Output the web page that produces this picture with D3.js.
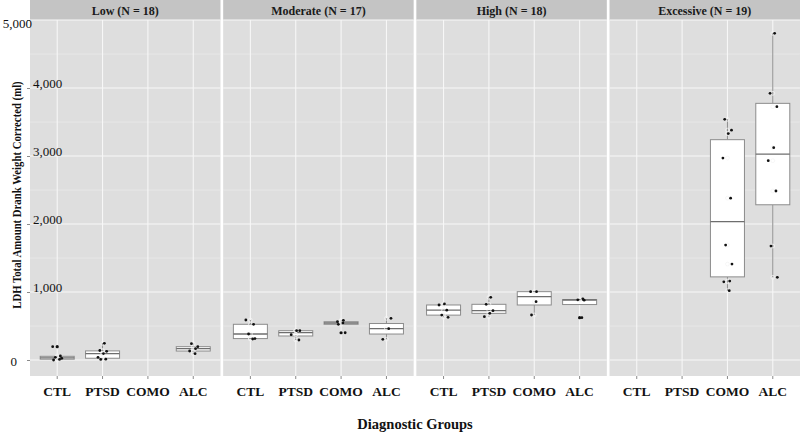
<!DOCTYPE html>
<html><head><meta charset="utf-8">
<script src="https://cdn.jsdelivr.net/npm/d3@7"></script>
<style>
html,body{margin:0;padding:0;background:#fff;}
svg{display:block;font-family:"Liberation Serif","Times New Roman",serif;}
</style></head>
<body><svg id="chart" width="800" height="433"></svg>
<script>
// ---- data ----
const levels = ["Low (N = 18)", "Moderate (N = 17)", "High (N = 18)", "Excessive (N = 19)"];
const groups = ["CTL", "PTSD", "COMO", "ALC"];
// values per drinking level, one inner array per diagnostic group (CTL, PTSD, COMO, ALC)
const lowValues       = [[0, 8, 25, 40, 59, 196], [8, 12, 40, 95, 128, 140, 245], [], [93, 132, 166, 196, 240]];
const moderateValues  = [[309, 315, 382, 525, 588], [294, 373, 431, 431], [401, 525, 544, 563, 583], [304, 460, 613]];
const highValues      = [[628, 660, 732, 809, 824], [637, 686, 725, 819, 922], [662, 858, 1005, 1005], [622, 880, 885, 900]];
const excessiveValues = [[], [], [1020, 1150, 1160, 1410, 1690, 2380, 2970, 3330, 3380, 3540], [1216, 1676, 2485, 2931, 3122, 3725, 3922, 4804]];
const yTicks = [0, 1000, 2000, 3000, 4000, 5000];
const yMinor = [500, 1500, 2500, 3500, 4500];
const xTitle = "Diagnostic Groups";
const yTitle = "LDH Total Amount Drank Weight Corrected (ml)";

const allValues = [lowValues, moderateValues, highValues, excessiveValues];

// ---- layout ----
const svg = d3.select("#chart");
const panelLeft = 30, panelRight = 800, stripTop = 0, stripBottom = 20, panelBottom = 376;

const fx = d3.scaleBand().domain(levels).range([panelLeft, panelRight]).paddingInner(0.014).paddingOuter(0);
const pw = fx.bandwidth();
const x = d3.scalePoint().domain(groups).range([0, pw]).padding(0.6);
const step = x.step();
const y = d3.scaleLinear().domain([0, 5000]).range([360, 20]);

const jit = [-0.08, 0.05, 0.1, -0.04, 0.07, -0.1, 0.02, 0.09, -0.06, 0.04];

levels.forEach((lev, li) => {
  const g = svg.append("g").attr("transform", `translate(${fx(lev)},0)`);
  // strip
  g.append("rect").attr("x", 0).attr("y", stripTop).attr("width", pw).attr("height", stripBottom - stripTop)
    .attr("fill", "#c4c4c4");
  g.append("text").attr("x", pw / 2).attr("y", 14.5).attr("text-anchor", "middle")
    .attr("font-weight", "bold").attr("font-size", 12).attr("fill", "#1a1a1a").text(lev);
  // panel
  g.append("rect").attr("x", 0).attr("y", stripBottom).attr("width", pw).attr("height", panelBottom - stripBottom)
    .attr("fill", "#dedede");
  // minor grid
  g.selectAll(".minor").data(yMinor).join("line")
    .attr("x1", 0).attr("x2", pw).attr("y1", d => y(d)).attr("y2", d => y(d))
    .attr("stroke", "#ececec").attr("stroke-width", 0.6);
  // major grid
  g.selectAll(".major").data(yTicks).join("line")
    .attr("x1", 0).attr("x2", pw).attr("y1", d => y(d)).attr("y2", d => y(d))
    .attr("stroke", "#f7f7f7").attr("stroke-width", 1.1);
  g.selectAll(".vgrid").data(groups).join("line")
    .attr("x1", d => x(d)).attr("x2", d => x(d)).attr("y1", stripBottom).attr("y2", panelBottom)
    .attr("stroke", "#f7f7f7").attr("stroke-width", 1.1);
  // x ticks
  g.selectAll(".xt").data(groups).join("line")
    .attr("x1", d => x(d)).attr("x2", d => x(d)).attr("y1", panelBottom).attr("y2", panelBottom + 3)
    .attr("stroke", "#8a8a8a").attr("stroke-width", 1);
  // x labels
  g.selectAll(".xl").data(groups).join("text")
    .attr("x", d => x(d)).attr("y", 396).attr("text-anchor", "middle")
    .attr("font-weight", "bold").attr("font-size", 13.5).attr("fill", "#111").text(d => d);

  // boxes
  groups.forEach((grp, gi) => {
    const vals = allValues[li][gi].slice().sort(d3.ascending);
    if (!vals.length) return;
    const q1 = d3.quantile(vals, 0.25), med = d3.quantile(vals, 0.5), q3 = d3.quantile(vals, 0.75);
    const iqr = q3 - q1;
    const inside = vals.filter(v => v >= q1 - 1.5 * iqr && v <= q3 + 1.5 * iqr);
    const lo = d3.min(inside), hi = d3.max(inside);
    const outliers = vals.filter(v => v < q1 - 1.5 * iqr || v > q3 + 1.5 * iqr);
    const cx = x(grp), bw = step * 0.75;
    g.append("line").attr("x1", cx).attr("x2", cx).attr("y1", y(hi)).attr("y2", y(q3))
      .attr("stroke", "#8c8c8c").attr("stroke-width", 1);
    g.append("line").attr("x1", cx).attr("x2", cx).attr("y1", y(q1)).attr("y2", y(lo))
      .attr("stroke", "#8c8c8c").attr("stroke-width", 1);
    g.append("rect").attr("x", cx - bw / 2).attr("y", y(q3)).attr("width", bw).attr("height", Math.max(y(q1) - y(q3), 0.5))
      .attr("fill", "#fff").attr("stroke", "#8c8c8c").attr("stroke-width", 1);
    g.append("line").attr("x1", cx - bw / 2).attr("x2", cx + bw / 2).attr("y1", y(med)).attr("y2", y(med))
      .attr("stroke", "#6e6e6e").attr("stroke-width", 1.3);
    // centre markers (light hollow) and boxplot outliers
    g.selectAll(null).data(vals.filter(v => !outliers.includes(v))).join("circle")
      .attr("cx", cx).attr("cy", d => y(d)).attr("r", 1.9)
      .attr("fill", "none").attr("stroke", "#f4f4f4").attr("stroke-width", 0.8);
    g.selectAll(null).data(outliers).join("circle")
      .attr("cx", cx).attr("cy", d => y(d)).attr("r", 1.6).attr("fill", "#111");
    // jittered points
    g.selectAll(null).data(allValues[li][gi]).join("circle")
      .attr("cx", (d, i) => cx + jit[(i + gi * 3 + li) % jit.length] * step)
      .attr("cy", d => y(d)).attr("r", 1.4).attr("fill", "#111");
  });
});

// y axis
const yAxis = svg.append("g").attr("transform", `translate(${panelLeft},0)`)
  .call(d3.axisLeft(y).tickValues(yTicks).tickSize(3).tickFormat(d3.format(",")));
yAxis.select(".domain").remove();
yAxis.selectAll(".tick line").attr("stroke", "#8a8a8a");
yAxis.selectAll(".tick text")
  .attr("font-family", "Liberation Serif, Times New Roman, serif")
  .attr("font-size", 13).attr("fill", "#111")
  .each(function (d) {
    const t = d3.select(this);
    if (d === 0) { t.attr("x", -13).attr("dy", "0.42em"); }
    else if (d === 5000) { t.attr("x", 2).attr("dy", "0.55em"); }
    else { t.attr("x", 3).attr("text-anchor", "start").attr("dy", "-0.05em"); }
  });

// axis titles
svg.append("text").attr("x", 415).attr("y", 429).attr("text-anchor", "middle")
  .attr("font-weight", "bold").attr("font-size", 14.5).attr("fill", "#111").text(xTitle);
svg.append("text").attr("transform", "translate(20.5,195) rotate(-90) scale(0.86,1)").attr("text-anchor", "middle")
  .attr("font-weight", "bold").attr("font-size", 12.5).attr("fill", "#111").text(yTitle);
</script></body></html>
